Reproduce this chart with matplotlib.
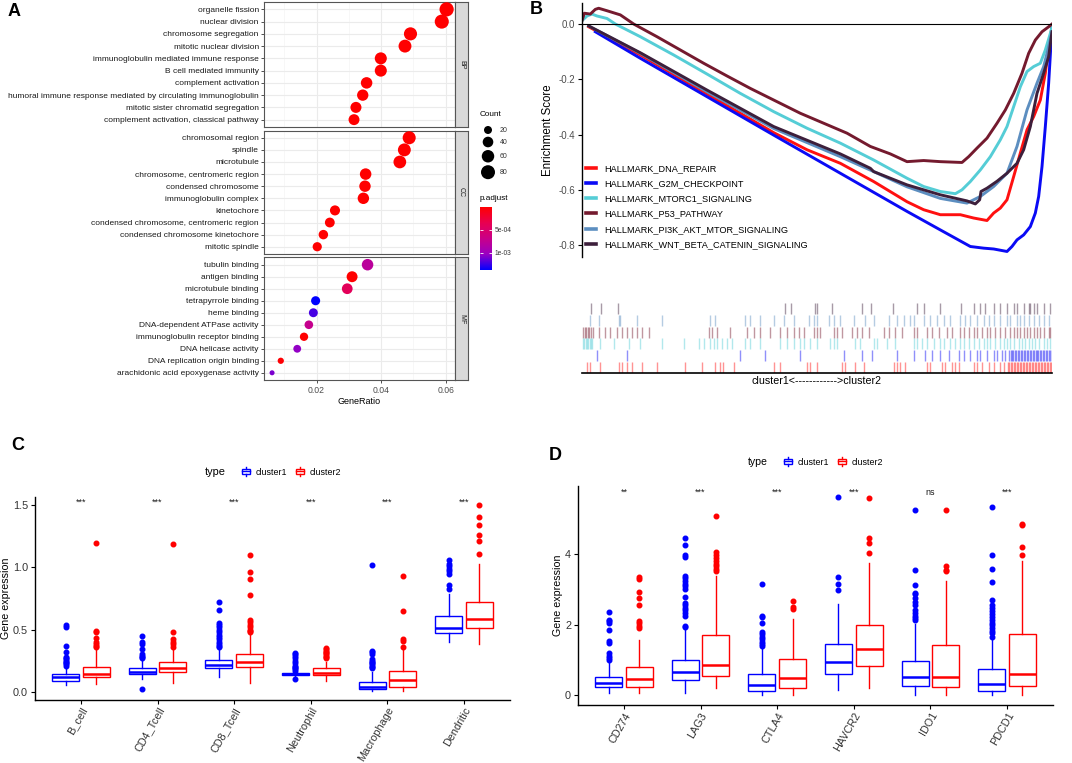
"""Four-panel figure: GO dotplot, GSEA curves and two boxplot panels."""

import numpy as np
import matplotlib
matplotlib.use("Agg")
import matplotlib.pyplot as plt
from matplotlib.colors import LinearSegmentedColormap, Normalize
from matplotlib.cm import ScalarMappable
from matplotlib.legend_handler import HandlerBase
from matplotlib.patches import Rectangle, Patch
from matplotlib.lines import Line2D

plt.rcParams["font.family"] = ["Liberation Sans", "DejaVu Sans"]
plt.rcParams["axes.unicode_minus"] = False

# ---------------- panel A: GO enrichment ----------------
BP_TERMS = ["organelle fission", "nuclear division", "chromosome segregation",
            "mitotic nuclear division", "immunoglobulin mediated immune response",
            "B cell mediated immunity", "complement activation",
            "humoral immune response mediated by circulating immunoglobulin",
            "mitotic sister chromatid segregation", "complement activation, classical pathway"]
BP_RATIO = [0.0603, 0.0588, 0.0491, 0.0474, 0.0399, 0.0399, 0.0355, 0.0343, 0.0322, 0.0316]
BP_COUNT = [83, 81, 68, 65, 55, 55, 49, 47, 44, 43]
BP_PADJ = [1e-20, 1e-19, 2e-16, 5e-15, 3e-13, 3e-13, 8e-12, 2e-11, 4e-10, 6e-10]

CC_TERMS = ["chromosomal region", "spindle", "microtubule", "chromosome, centromeric region",
            "condensed chromosome", "immunoglobulin complex", "kinetochore",
            "condensed chromosome, centromeric region", "condensed chromosome kinetochore",
            "mitotic spindle"]
CC_RATIO = [0.0487, 0.0472, 0.0458, 0.0352, 0.0350, 0.0345, 0.0257, 0.0241, 0.0221, 0.0202]
CC_COUNT = [67, 65, 63, 49, 48, 48, 35, 33, 30, 28]
CC_PADJ = [2e-15, 5e-14, 1e-12, 3e-12, 6e-12, 1e-11, 2e-10, 4e-10, 7e-10, 2e-9]

MF_TERMS = ["tubulin binding", "antigen binding", "microtubule binding", "tetrapyrrole binding",
            "heme binding", "DNA-dependent ATPase activity", "immunoglobulin receptor binding",
            "DNA helicase activity", "DNA replication origin binding",
            "arachidonic acid epoxygenase activity"]
MF_RATIO = [0.0358, 0.0310, 0.0295, 0.0197, 0.0190, 0.0176, 0.0161, 0.0140, 0.0089, 0.0062]
MF_COUNT = [49, 43, 41, 27, 26, 24, 22, 19, 12, 9]
MF_PADJ = [8.0e-4, 3e-9, 4.0e-4, 1.38e-3, 1.22e-3, 7.2e-4, 5e-8, 1.05e-3, 2e-5, 1.1e-3]

LEG_COUNTS = [20, 40, 60, 80]

# ---------------- panel B: GSEA ----------------
HALLMARKS = ["HALLMARK_DNA_REPAIR", "HALLMARK_G2M_CHECKPOINT", "HALLMARK_MTORC1_SIGNALING",
             "HALLMARK_P53_PATHWAY", "HALLMARK_PI3K_AKT_MTOR_SIGNALING",
             "HALLMARK_WNT_BETA_CATENIN_SIGNALING"]
HM_COLORS = ["#FF1010", "#0A0AF5", "#55CDD6", "#741A2E", "#5C8EC0", "#3D1F3B"]

ES_RANK_DNA = [20, 175, 375, 575, 675, 775, 875, 975, 1025, 1075, 1135, 1175, 1215, 1235,
               1255, 1275, 1295, 1315, 1335, 1355, 1375, 1390, 1400, 1410]
ES_DNA = [-0.010, -0.112, -0.253, -0.393, -0.455, -0.504, -0.570, -0.643, -0.672, -0.690,
          -0.690, -0.702, -0.711, -0.684, -0.666, -0.636, -0.552, -0.467, -0.383, -0.335,
          -0.275, -0.178, -0.082, -0.010]
ES_RANK_G2M = [40, 175, 375, 575, 775, 975, 1075, 1165, 1205, 1235, 1275, 1290, 1305, 1325,
               1345, 1360, 1370, 1380, 1390, 1400, 1407, 1410]
ES_G2M = [-0.028, -0.124, -0.263, -0.402, -0.540, -0.678, -0.745, -0.805, -0.811, -0.814,
          -0.823, -0.805, -0.781, -0.763, -0.733, -0.684, -0.624, -0.516, -0.371, -0.214,
          -0.070, -0.010]
ES_RANK_MTORC1 = [0, 15, 30, 45, 75, 100, 175, 275, 375, 475, 575, 675, 775, 875, 975, 1025,
                  1075, 1120, 1140, 1165, 1195, 1225, 1255, 1275, 1295, 1315, 1335, 1355,
                  1375, 1390, 1405, 1410]
ES_MTORC1 = [0.012, 0.029, 0.036, 0.029, 0.020, 0.000, -0.046, -0.112, -0.181, -0.251,
             -0.317, -0.377, -0.431, -0.492, -0.558, -0.588, -0.606, -0.614, -0.600, -0.570,
             -0.528, -0.480, -0.419, -0.371, -0.299, -0.227, -0.172, -0.154, -0.142, -0.094,
             -0.034, -0.010]
ES_RANK_P53 = [0, 7, 25, 40, 50, 75, 115, 155, 225, 295, 365, 435, 505, 575, 655, 725, 795,
               865, 925, 975, 1025, 1075, 1140, 1160, 1185, 1215, 1245, 1270, 1295, 1320,
               1340, 1360, 1380, 1400, 1410]
ES_P53 = [0.012, 0.039, 0.036, 0.053, 0.057, 0.048, 0.033, 0.000, -0.046, -0.094, -0.142,
          -0.188, -0.233, -0.275, -0.323, -0.359, -0.395, -0.443, -0.470, -0.498, -0.494,
          -0.498, -0.501, -0.480, -0.449, -0.413, -0.359, -0.311, -0.251, -0.178, -0.106,
          -0.058, -0.028, -0.010, 0.000]
ES_RANK_PI3K = [20, 175, 375, 575, 775, 875, 975, 1075, 1155, 1175, 1195, 1235, 1275, 1305,
                1335, 1365, 1385, 1400, 1410]
ES_PI3K = [-0.007, -0.106, -0.245, -0.378, -0.480, -0.534, -0.589, -0.631, -0.648, -0.636,
           -0.624, -0.588, -0.540, -0.443, -0.311, -0.214, -0.154, -0.082, -0.028]
ES_RANK_WNT = [20, 175, 375, 575, 775, 865, 875, 975, 1075, 1155, 1180, 1193, 1197, 1215,
               1245, 1275, 1305, 1325, 1345, 1365, 1385, 1400, 1410]
ES_WNT = [-0.007, -0.104, -0.239, -0.371, -0.470, -0.522, -0.534, -0.582, -0.618, -0.640,
          -0.651, -0.636, -0.606, -0.594, -0.569, -0.540, -0.504, -0.455, -0.371, -0.251,
          -0.178, -0.118, -0.028]

# gene-set hit positions in the ranked list (rug rows, top to bottom: WNT .. DNA_REPAIR)
HITS_WNT = [27, 57, 107, 610, 627, 700, 705, 750, 840, 867, 933, 1005, 1025, 1075, 1137, 1175,
            1195, 1210, 1235, 1255, 1275, 1295, 1305, 1325, 1340, 1345, 1355, 1365, 1385, 1405]
HITS_PI3K = [23, 50, 110, 115, 165, 240, 385, 400, 490, 505, 535, 575, 605, 635, 680, 695, 705,
             740, 755, 775, 815, 850, 875, 920, 945, 965, 985, 995, 1025, 1045, 1065, 1085,
             1105, 1135, 1150, 1165, 1185, 1205, 1220, 1235, 1255, 1275, 1285, 1305, 1315,
             1325, 1340, 1355, 1370, 1385, 1400]
HITS_P53 = [3, 8, 13, 18, 22, 27, 32, 50, 70, 85, 105, 120, 135, 150, 165, 180, 200, 380, 390,
            405, 445, 495, 515, 535, 565, 595, 615, 635, 650, 665, 695, 705, 715, 755, 765,
            780, 810, 825, 840, 860, 905, 920, 940, 960, 995, 1005, 1035, 1050, 1070, 1095,
            1110, 1135, 1145, 1160, 1175, 1185, 1200, 1215, 1225, 1240, 1255, 1270, 1285,
            1295, 1305, 1315, 1325, 1335, 1345, 1355, 1365, 1375, 1385, 1400, 1405]
HITS_MTORC1 = [3, 7, 11, 15, 19, 23, 27, 31, 55, 95, 140, 175, 240, 305, 350, 365, 385, 395,
               405, 420, 435, 450, 490, 505, 535, 595, 615, 635, 655, 665, 685, 705, 745, 755,
               765, 820, 835, 875, 885, 915, 940, 995, 1005, 1020, 1035, 1055, 1075, 1085,
               1105, 1120, 1135, 1145, 1160, 1175, 1190, 1205, 1215, 1225, 1240, 1255, 1265,
               1275, 1285, 1295, 1310, 1320, 1330, 1340, 1350, 1360, 1370, 1385, 1395, 1405]
HITS_G2M = [45, 135, 475, 550, 655, 785, 840, 870, 945, 995, 1030, 1050, 1075, 1100, 1130,
            1145, 1165, 1185, 1195, 1215, 1235, 1245, 1260, 1270, 1282, 1286, 1291, 1294,
            1299, 1303, 1308, 1312, 1316, 1321, 1326, 1330, 1334, 1339, 1343, 1348, 1352,
            1357, 1361, 1365, 1369, 1374, 1378, 1383, 1387, 1392, 1396, 1401, 1405, 1409]
HITS_DNA = [15, 25, 55, 110, 120, 135, 150, 180, 225, 310, 360, 400, 415, 423, 455, 575, 595,
            675, 685, 705, 780, 790, 820, 845, 935, 945, 955, 970, 1035, 1045, 1080, 1090,
            1110, 1120, 1130, 1175, 1185, 1200, 1220, 1235, 1255, 1265, 1277, 1282, 1286,
            1290, 1295, 1300, 1304, 1309, 1313, 1318, 1322, 1327, 1331, 1336, 1340, 1345,
            1349, 1354, 1358, 1363, 1367, 1372, 1376, 1381, 1385, 1390, 1394, 1399, 1403, 1408]

# ---------------- panel C: immune cells ----------------
IMM_CATS = ["B_cell", "CD4_Tcell", "CD8_Tcell", "Neutrophil", "Macrophage", "Dendritic"]
IMM_C1_Q1 = [0.089, 0.142, 0.188, 0.131, 0.019, 0.475]
IMM_C1_MED = [0.115, 0.161, 0.215, 0.142, 0.040, 0.515]
IMM_C1_Q3 = [0.140, 0.193, 0.252, 0.153, 0.080, 0.609]
IMM_C1_LO = [0.054, 0.100, 0.120, 0.115, 0.005, 0.400]
IMM_C1_HI = [0.200, 0.260, 0.375, 0.169, 0.160, 0.790]
IMM_C1_OUT = [[0.21, 0.22, 0.23, 0.24, 0.25, 0.26, 0.27, 0.28, 0.32, 0.37, 0.52, 0.54],
              [0.02, 0.27, 0.28, 0.29, 0.30, 0.34, 0.38, 0.40, 0.45],
              [0.36, 0.37, 0.38, 0.40, 0.42, 0.44, 0.46, 0.48, 0.50, 0.52, 0.54, 0.55, 0.66, 0.72],
              [0.10, 0.17, 0.18, 0.19, 0.20, 0.21, 0.23, 0.25, 0.27, 0.29, 0.30, 0.31],
              [0.19, 0.20, 0.21, 0.22, 0.23, 0.24, 0.25, 0.26, 0.30, 0.32, 0.33, 1.02],
              [0.83, 0.86, 0.95, 0.97, 0.99, 1.01, 1.03, 1.06]]
IMM_C2_Q1 = [0.115, 0.161, 0.196, 0.131, 0.040, 0.510]
IMM_C2_MED = [0.145, 0.188, 0.241, 0.150, 0.094, 0.585]
IMM_C2_Q3 = [0.200, 0.236, 0.303, 0.193, 0.169, 0.722]
IMM_C2_LO = [0.060, 0.072, 0.067, 0.086, 0.005, 0.384]
IMM_C2_HI = [0.350, 0.350, 0.470, 0.240, 0.340, 1.030]
IMM_C2_OUT = [[0.36, 0.37, 0.38, 0.40, 0.43, 0.48, 0.49, 1.20],
              [0.36, 0.38, 0.40, 0.42, 0.48, 1.19],
              [0.48, 0.49, 0.50, 0.52, 0.54, 0.56, 0.58, 0.78, 0.91, 0.96, 1.10],
              [0.27, 0.28, 0.29, 0.30, 0.31, 0.32, 0.33, 0.34, 0.35],
              [0.36, 0.41, 0.42, 0.65, 0.93],
              [1.11, 1.21, 1.26, 1.34, 1.41, 1.50]]
IMM_SIG = ["***", "***", "***", "***", "***", "***"]

# ---------------- panel D: checkpoints ----------------
ICP_CATS = ["CD274", "LAG3", "CTLA4", "HAVCR2", "IDO1", "PDCD1"]
ICP_C1_Q1 = [0.226, 0.433, 0.113, 0.600, 0.264, 0.132]
ICP_C1_MED = [0.358, 0.668, 0.292, 0.930, 0.527, 0.320]
ICP_C1_Q3 = [0.527, 1.007, 0.612, 1.440, 0.960, 0.734]
ICP_C1_LO = [0.056, 0.056, 0.0, 0.140, 0.0, 0.0]
ICP_C1_HI = [0.950, 1.840, 1.374, 2.580, 2.010, 1.640]
ICP_C1_OUT = [[1.00, 1.05, 1.10, 1.21, 1.47, 1.54, 1.84, 2.03, 2.10, 2.13, 2.36],
              [1.92, 1.96, 2.25, 2.33, 2.40, 2.47, 2.55, 2.62, 2.78, 3.00, 3.08, 3.15, 3.22,
               3.30, 3.37, 3.90, 3.95, 4.25, 4.45],
              [1.40, 1.45, 1.50, 1.58, 1.65, 1.72, 1.80, 2.05, 2.20, 2.25, 3.15],
              [2.98, 3.15, 3.33, 5.60],
              [2.12, 2.18, 2.25, 2.32, 2.40, 2.55, 2.65, 2.75, 2.85, 2.90, 3.13, 3.55, 5.22],
              [1.65, 1.75, 1.82, 1.90, 1.98, 2.05, 2.12, 2.20, 2.30, 2.38, 2.48, 2.55, 2.70,
               3.20, 3.57, 3.97, 5.32]]
ICP_C2_Q1 = [0.245, 0.546, 0.200, 0.820, 0.226, 0.264]
ICP_C2_MED = [0.460, 0.856, 0.500, 1.300, 0.527, 0.600]
ICP_C2_Q3 = [0.810, 1.700, 1.026, 1.980, 1.420, 1.720]
ICP_C2_LO = [0.056, 0.200, 0.0, 0.200, 0.0, 0.0]
ICP_C2_HI = [1.560, 3.370, 2.170, 3.730, 3.220, 3.780]
ICP_C2_OUT = [[1.90, 1.95, 2.05, 2.10, 2.55, 2.75, 2.93, 3.28, 3.33],
              [3.50, 3.58, 3.65, 3.72, 3.80, 3.88, 3.95, 4.05, 5.05],
              [2.45, 2.50, 2.67],
              [4.03, 4.30, 4.45, 5.58],
              [3.50, 3.55, 3.65, 5.22],
              [3.95, 4.20, 4.80, 4.85]]
ICP_SIG = ["**", "***", "***", "***", "ns", "***"]

GROUPS = ["cluster1", "cluster2"]
GROUP_COLORS = ["#0000FF", "#FF0000"]

W, H = 1072, 763


def px(l, t, r, b):
    """Axes rectangle from pixel edges (origin top-left)."""
    return [l / W, 1 - b / H, (r - l) / W, (b - t) / H]


def dot_size(count):
    d = 3.85 + 10.5 * np.sqrt(np.clip((np.asarray(count, float) - 8) / 77, 0, 1))
    return (d * 0.72) ** 2


class BoxKey(HandlerBase):
    def create_artists(self, legend, orig_handle, xdescent, ydescent, width, height,
                       fontsize, trans):
        c = orig_handle.get_edgecolor()
        x0, y0 = -xdescent, -ydescent
        rect = Rectangle((x0 + 0.1 * width, y0 + 0.2 * height), 0.8 * width, 0.6 * height,
                         facecolor="white", edgecolor=c, lw=1, transform=trans)
        med = Line2D([x0 + 0.1 * width, x0 + 0.9 * width], [y0 + 0.5 * height] * 2,
                     color=c, lw=1, transform=trans)
        w1 = Line2D([x0 + 0.5 * width] * 2, [y0 - 0.1 * height, y0 + 0.2 * height],
                    color=c, lw=1, transform=trans)
        w2 = Line2D([x0 + 0.5 * width] * 2, [y0 + 0.8 * height, y0 + 1.1 * height],
                    color=c, lw=1, transform=trans)
        return [rect, med, w1, w2]


fig = plt.figure(figsize=(W / 100, H / 100), dpi=100)

# ======================= A =======================
cmap = LinearSegmentedColormap.from_list(
    "padj", ["#FF0000", "#E80050", "#C90088", "#9A00C2", "#0000FF"])
norm = Normalize(vmin=0, vmax=max(BP_PADJ + CC_PADJ + MF_PADJ))

ontologies = [("BP", BP_TERMS, BP_RATIO, BP_COUNT, BP_PADJ, 2, 127),
              ("CC", CC_TERMS, CC_RATIO, CC_COUNT, CC_PADJ, 130.5, 254),
              ("MF", MF_TERMS, MF_RATIO, MF_COUNT, MF_PADJ, 257.5, 380)]
for name, terms, ratio, count, padj, top, bot in ontologies:
    ax = fig.add_axes(px(264, top, 455, bot))
    y = np.arange(len(terms))[::-1] + 1
    ax.scatter(ratio, y, s=dot_size(count), c=padj, cmap=cmap, norm=norm, lw=0, zorder=3)
    ax.set_xlim(0.0037, 0.0629)
    ax.set_ylim(0.4, len(terms) + 0.6)
    ax.set_xticks([0.02, 0.04, 0.06])
    ax.set_xticks([0.01, 0.03, 0.05], minor=True)
    ax.set_yticks(y)
    ax.set_yticklabels(terms, fontsize=6.05, color="#1A1A1A")
    ax.set_axisbelow(True)
    ax.grid(which="major", color="#EBEBEB", lw=0.8)
    ax.grid(which="minor", axis="x", color="#F4F4F4", lw=0.5)
    for s in ax.spines.values():
        s.set_color("#555555")
        s.set_linewidth(0.8)
    ax.tick_params(axis="y", length=2.5, width=0.6, color="#333333", pad=1.2)
    ax.tick_params(axis="x", which="minor", length=0)
    if name == "MF":
        ax.set_xticklabels(["0.02", "0.04", "0.06"])
        ax.tick_params(axis="x", length=2.5, width=0.6, color="#333333",
                       labelsize=6.2, labelcolor="#4D4D4D", pad=1.5)
        ax.set_xlabel("GeneRatio", fontsize=6.5, labelpad=1.5)
    else:
        ax.tick_params(axis="x", which="major", length=0, labelbottom=False)
    sx = fig.add_axes(px(455, top, 468, bot))
    sx.set_facecolor("#D9D9D9")
    sx.set_xticks([])
    sx.set_yticks([])
    for s in sx.spines.values():
        s.set_color("#555555")
        s.set_linewidth(0.8)
    sx.text(0.5, 0.5, name, rotation=270, ha="center", va="center", fontsize=5,
            color="#1A1A1A", transform=sx.transAxes)

# Count legend
fig.text(480 / W, 1 - 115 / H, "Count", fontsize=5.9, va="center")
key_d = 3.85 + 10.5 * np.sqrt((np.array(LEG_COUNTS) - 8) / 77)
key_y = [130.0]
for i in range(1, len(LEG_COUNTS)):
    key_y.append(key_y[-1] + (key_d[i - 1] + key_d[i]) / 2 + 2.7)
lax = fig.add_axes(px(476, 120, 498, 182))
lax.set_xlim(476, 498)
lax.set_ylim(182, 120)
lax.axis("off")
lax.scatter([488] * len(LEG_COUNTS), key_y, s=dot_size(LEG_COUNTS), c="black", lw=0)
for c, yy in zip(LEG_COUNTS, key_y):
    fig.text(500 / W, 1 - yy / H, str(c), fontsize=5, va="center", color="#333333")

# p.adjust colourbar
fig.text(480 / W, 1 - 199 / H, "p.adjust", fontsize=5.9, va="center")
cax = fig.add_axes(px(480, 207, 492, 270))
cb = fig.colorbar(ScalarMappable(norm=norm, cmap=cmap), cax=cax)
cax.invert_yaxis()
cb.outline.set_visible(False)
cb.set_ticks([5e-4, 1e-3])
cb.set_ticklabels(["5e-04", "1e-03"])
cax.tick_params(axis="y", direction="in", color="white", length=2.5, width=0.6,
                left=True, right=True, labelsize=4.8, labelcolor="#333333", pad=2)

# ======================= B =======================
axB = fig.add_axes(px(582, 3, 1052, 257))
curves = [(ES_RANK_DNA, ES_DNA), (ES_RANK_G2M, ES_G2M), (ES_RANK_MTORC1, ES_MTORC1),
          (ES_RANK_P53, ES_P53), (ES_RANK_PI3K, ES_PI3K), (ES_RANK_WNT, ES_WNT)]
for (xr, es), col in zip(curves, HM_COLORS):
    axB.plot(xr, es, color=col, lw=2.1, solid_joinstyle="round")
axB.axhline(0, color="black", lw=0.8)
axB.set_xlim(0, 1410)
axB.set_ylim(-0.843, 0.076)
axB.set_yticks([-0.8, -0.6, -0.4, -0.2, 0.0])
axB.set_yticklabels(["-0.8", "-0.6", "-0.4", "-0.2", "0.0"])
axB.set_xticks([])
for s in ["top", "right", "bottom"]:
    axB.spines[s].set_visible(False)
axB.spines["left"].set_linewidth(1.0)
axB.tick_params(axis="y", length=3, width=0.8, labelsize=7, labelcolor="#4D4D4D", pad=2)
axB.set_ylabel("Enrichment Score", fontsize=8.3, labelpad=3)
handles = [Line2D([], [], color=c, lw=2.6) for c in HM_COLORS]
axB.legend(handles, HALLMARKS, loc="upper left", bbox_to_anchor=(586 / W, 1 - 164 / H),
           bbox_transform=fig.transFigure, frameon=False, fontsize=6.6, handlelength=1.1,
           handletextpad=0.9, labelspacing=0.68, borderpad=0, borderaxespad=0)

axR = fig.add_axes(px(582, 303, 1052, 373))
rug_rows = [HITS_WNT, HITS_PI3K, HITS_P53, HITS_MTORC1, HITS_G2M, HITS_DNA]
rug_cols = [HM_COLORS[5], HM_COLORS[4], HM_COLORS[3], HM_COLORS[2], HM_COLORS[1], HM_COLORS[0]]
for i, (hits, col) in enumerate(zip(rug_rows, rug_cols)):
    row = 5 - i
    axR.vlines(hits, row + 0.04, row + 0.96, color=col, alpha=0.45, lw=1.0)
axR.set_xlim(0, 1410)
axR.set_ylim(0, 6)
axR.set_xticks([])
axR.set_yticks([])
for s in ["top", "right", "left"]:
    axR.spines[s].set_visible(False)
axR.spines["bottom"].set_linewidth(1.2)
fig.text(817 / W, 1 - 381 / H, "cluster1<------------>cluster2", fontsize=7.7,
         ha="center", va="center")


# ======================= C & D =======================
def box_panel(rect, cats, groups, sig, ylim, yticks, yticklabels, sig_y):
    ax = fig.add_axes(rect)
    pos = np.arange(1, len(cats) + 1)
    for gi, (q1, med, q3, lo, hi, out) in enumerate(groups):
        col = GROUP_COLORS[gi]
        stats = [dict(q1=a, med=b, q3=c, whislo=d, whishi=e, fliers=f)
                 for a, b, c, d, e, f in zip(q1, med, q3, lo, hi, out)]
        ax.bxp(stats, positions=pos + (gi - 0.5) * 0.4, widths=0.35, showcaps=False,
               patch_artist=True, manage_ticks=False,
               boxprops=dict(facecolor="white", edgecolor=col, lw=1.0),
               medianprops=dict(color=col, lw=1.8),
               whiskerprops=dict(color=col, lw=1.0),
               flierprops=dict(marker="o", markerfacecolor=col, markeredgecolor=col,
                               markersize=3.3, linestyle="none"))
    for p, s in zip(pos, sig):
        ax.text(p, sig_y, s, ha="center", va="center", fontsize=6.5, color="#1A1A1A",
                transform=ax.get_xaxis_transform())
    ax.set_xlim(0.4, len(cats) + 0.6)
    ax.set_ylim(*ylim)
    ax.set_xticks(pos)
    ax.set_xticklabels(cats, rotation=60, ha="right", va="top", rotation_mode="anchor",
                       fontsize=7.8, color="#333333")
    ax.set_yticks(yticks)
    ax.set_yticklabels(yticklabels, fontsize=7.8, color="#333333")
    for s in ["top", "right"]:
        ax.spines[s].set_visible(False)
    for s in ["left", "bottom"]:
        ax.spines[s].set_linewidth(1.0)
    ax.tick_params(axis="y", length=3, width=0.8, pad=2)
    ax.tick_params(axis="x", length=3, width=0.8, pad=1)
    ax.set_ylabel("Gene expression", fontsize=7.7, labelpad=1.5)
    return ax


axC = box_panel(px(35, 497, 510, 700), IMM_CATS,
                [(IMM_C1_Q1, IMM_C1_MED, IMM_C1_Q3, IMM_C1_LO, IMM_C1_HI, IMM_C1_OUT),
                 (IMM_C2_Q1, IMM_C2_MED, IMM_C2_Q3, IMM_C2_LO, IMM_C2_HI, IMM_C2_OUT)],
                IMM_SIG, (-0.067, 1.567), [0, 0.5, 1.0, 1.5], ["0.0", "0.5", "1.0", "1.5"],
                0.975)
axD = box_panel(px(578, 486, 1053, 705), ICP_CATS,
                [(ICP_C1_Q1, ICP_C1_MED, ICP_C1_Q3, ICP_C1_LO, ICP_C1_HI, ICP_C1_OUT),
                 (ICP_C2_Q1, ICP_C2_MED, ICP_C2_Q3, ICP_C2_LO, ICP_C2_HI, ICP_C2_OUT)],
                ICP_SIG, (-0.27, 5.91), [0, 2, 4], ["0", "2", "4"], 0.97)

box_handles = [Patch(facecolor="white", edgecolor=c) for c in GROUP_COLORS]
for cx, cy, ax in [(291, 472, axC), (833, 462, axD)]:
    ax.legend(box_handles, GROUPS, handler_map={Patch: BoxKey()}, ncol=2, loc="center",
              bbox_to_anchor=(cx / W, 1 - cy / H), bbox_transform=fig.transFigure,
              frameon=False, fontsize=6.4, handlelength=1.2, handleheight=1.0,
              handletextpad=0.5, columnspacing=0.8, borderpad=0)
fig.text(215 / W, 1 - 472 / H, "type", fontsize=7.9, ha="center", va="center")
fig.text(758 / W, 1 - 462 / H, "type", fontsize=7.6, ha="center", va="center")

# panel letters
for letter, x, y in [("A", 14, 11), ("B", 536, 10), ("C", 18, 446), ("D", 555, 456)]:
    fig.text(x / W, 1 - y / H, letter, fontsize=13, fontweight="bold", ha="center",
             va="center")

fig.savefig("out.png", dpi=100)
